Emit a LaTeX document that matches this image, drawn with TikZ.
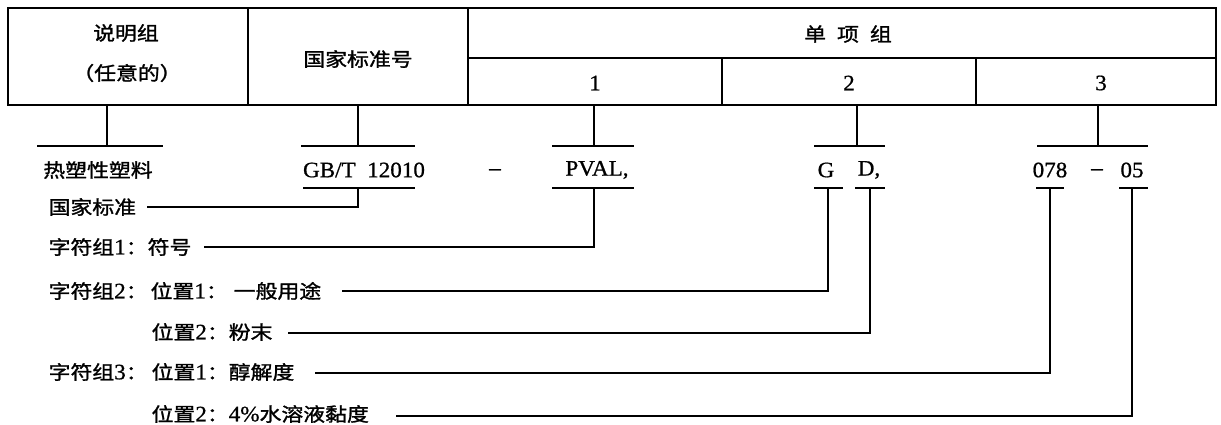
\documentclass[tikz,border=0pt]{standalone}
\usepackage{fontspec}
\setmainfont{Liberation Serif}[FakeStretch=1.05,FakeBold=0.8]
\newfontfamily\cjkfont{Noto Sans CJK SC}[Scale=0.864,FakeStretch=1.15,FakeBold=1.4]
\newcommand\zh[1]{{\cjkfont #1}}
\begin{document}
\begin{tikzpicture}[x=1pt,y=-1pt,line width=1.3pt,
  every node/.style={inner sep=0pt,font=\fontsize{22}{26}\selectfont},
  cell/.style={draw,line width=1.3pt,minimum height=#1},
  lbl/.style={anchor=west}]
\useasboundingbox (0,0) rectangle (1221,425);
% header table
\node[cell=97pt,minimum width=240pt] (cA) at (128,56.5) {};
\node[cell=97pt,minimum width=220pt] (cB) at (358,56.5) {};
\node[cell=50pt,minimum width=748pt] (cC) at (842,33) {};
\node[cell=47pt,minimum width=254pt] (c1) at (595,81.5) {};
\node[cell=47pt,minimum width=254pt] (c2) at (849,81.5) {};
\node[cell=47pt,minimum width=240pt] (c3) at (1096,81.5) {};
\node (tA1) at (126,33) {\zh{说明组}};
\node (tA2) at (127,73) {\zh{（任意的）}};
\node (tB) at (358,59) {\zh{国家标准号}};
\node (tC) at (848,34) {\zh{单\hspace{11pt}项\hspace{11pt}组}};
\node (t1) at (595,83) {1};
\node (t2) at (849,83) {2};
\node (t3) at (1101,83) {3};
% values
\node (vA) at (98,170) {\zh{热塑性塑料}};
\node (vB) at (364,170) {GB/T\ \ 12010};
\node (d1) at (495,172) {–};
\node (vC) at (597,170) {PVAL,};
\node (vG) at (826,170) {G};
\node (vD) at (869,170) {D,};
\node (v078) at (1050,170) {078};
\node (d2) at (1097,172) {–};
\node (v05) at (1132,170) {05};
% top bars and stems
\coordinate (sA) at (107,146); \coordinate (sB) at (358,146);
\coordinate (sC) at (594,146); \coordinate (s2) at (857,146);
\coordinate (s3) at (1098,146);
\draw (37,146) -- (163,146); \draw (cA.south -| sA) -- (sA);
\draw (301,146) -- (415,146); \draw (cB.south -| sB) -- (sB);
\draw (552,146) -- (634,146); \draw (c1.south -| sC) -- (sC);
\draw (814,146) -- (885,146); \draw (c2.south -| s2) -- (s2);
\draw (1037,146) -- (1148,146); \draw (c3.south -| s3) -- (s3);
% bottom bars
\coordinate (bB) at (358,188); \coordinate (bC) at (594,188);
\coordinate (bG) at (828,188); \coordinate (bD) at (870,188);
\coordinate (b078) at (1050,188); \coordinate (b05) at (1132,188);
\draw (303,188) -- (415,188);
\draw (552,188) -- (634,188);
\draw (814,188) -- (843,188);
\draw (855,188) -- (885,188);
\draw (1036,188) -- (1064,188);
\draw (1119,188) -- (1148,188);
% labels
\node[lbl] (l1) at (48,207) {\zh{国家标准}};
\node[lbl] (l2) at (48,247) {\zh{字符组}1\zh{：符号}};
\node[lbl] (l3a) at (48,291) {\zh{字符组}2\zh{：}};
\node[lbl] (l3b) at (150,291) {\zh{位置}1\zh{：}\hspace{6pt}\zh{一般用途}};
\node[lbl] (l4) at (151,332) {\zh{位置}2\zh{：粉末}};
\node[lbl] (l5a) at (48,372) {\zh{字符组}3\zh{：}};
\node[lbl] (l5b) at (151,372) {\zh{位置}1\zh{：醇解度}};
\node[lbl] (l6) at (151,414) {\zh{位置}2\zh{：}4\%\zh{水溶液黏度}};
% leader lines
\coordinate (e1) at (147,207); \coordinate (e2) at (204,247);
\coordinate (e3) at (342,291); \coordinate (e4) at (288,333);
\coordinate (e5) at (315,373); \coordinate (e6) at (396,416);
\draw (e1) -| (bB);
\draw (e2) -| (bC);
\draw (e3) -| (bG);
\draw (e4) -| (bD);
\draw (e5) -| (b078);
\draw (e6) -| (b05);
\end{tikzpicture}
\end{document}
